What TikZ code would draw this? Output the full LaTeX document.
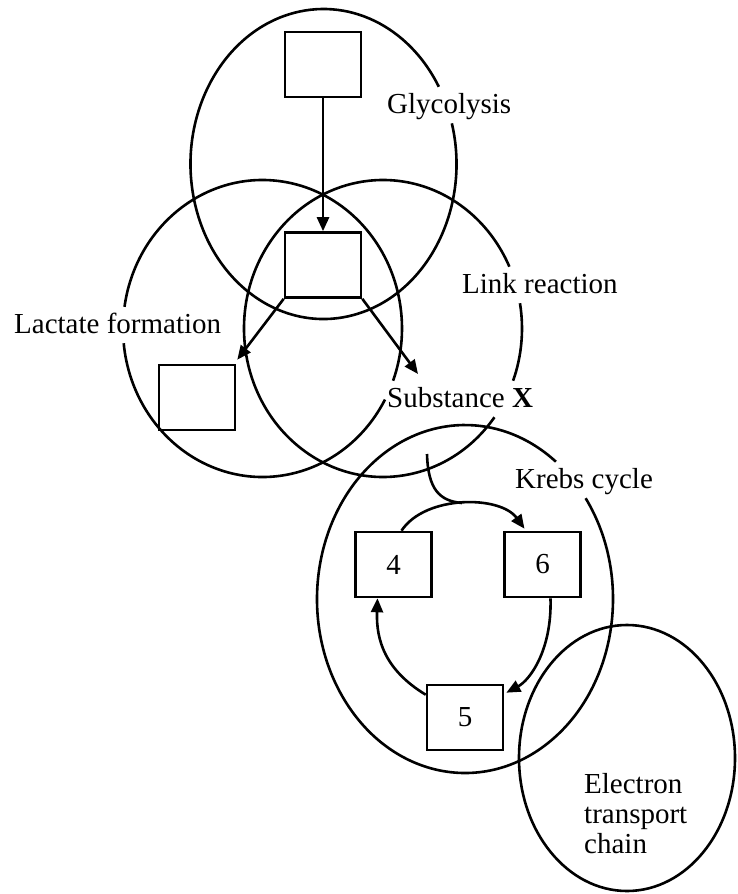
\documentclass[tikz,border=0pt]{standalone}
\usepackage{fontspec}
\setmainfont{Liberation Serif}
\usetikzlibrary{arrows.meta}
\begin{document}
\begin{tikzpicture}[x=1pt,y=-1pt]
\tikzset{
  stage/.style={draw,line width=2.6pt},
  lbl/.style={inner xsep=2pt,inner ysep=3pt,anchor=base west,text height=0.8em,text depth=0.25em,font=\fontsize{29}{30}\selectfont},
  box/.style={draw,line width=2.6pt,minimum width=76pt,minimum height=65pt,inner sep=0pt,font=\fontsize{29}{30}\selectfont},
  arr/.style={-{Triangle[length=14pt,width=12pt]},line width=2.6pt},
  plain/.style={line width=2.6pt}}
\useasboundingbox (0,0) rectangle (737,894);
% stages (ellipses, broken where a label sits on them)
% Glycolysis
\draw[stage] (323.5,164) ++(-15.2:133 and 155) arc[start angle=-15.2, end angle=330.1, x radius=133, y radius=155];
% Lactate formation
\draw[stage] (262.5,328.5) ++(28.6:139.5 and 148.5) arc[start angle=28.6, end angle=174.3, x radius=139.5, y radius=148.5];
\draw[stage] (262.5,328.5) ++(188.4:139.5 and 148.5) arc[start angle=188.4, end angle=380.6, x radius=139.5, y radius=148.5];
% Link reaction
\draw[stage] (383,328.5) ++(-9.8:139 and 148.5) arc[start angle=-9.8, end angle=20.6, x radius=139, y radius=148.5];
\draw[stage] (383,328.5) ++(36.7:139 and 148.5) arc[start angle=36.7, end angle=335.4, x radius=139, y radius=148.5];
% Krebs cycle
\draw[stage] (465,599) ++(-35.4:148 and 174) arc[start angle=-35.4, end angle=307.9, x radius=148, y radius=174];
% Electron transport chain
\draw[stage] (627,758) ellipse [x radius=108, y radius=133];
% labels
\node[lbl] (glyc) at (385,113) {Glycolysis};
\node[lbl] (link) at (460,293) {Link reaction};
\node[lbl] (lact) at (12,333) {Lactate formation};
\node[lbl] (subx) at (385,407) {Substance \textbf{X}};
\node[lbl] (krebs) at (513,488) {Krebs cycle};
\node[anchor=north west,align=left,inner sep=0pt,font=\fontsize{29}{30}\selectfont] (etc) at (584,773) {Electron\\transport\\chain};
% boxes
\node[box] (top) at (323,64.5) {};
\node[box] (mid) at (323,265) {};
\node[box] (lac) at (197,397.5) {};
\node[box] (k4) at (393.5,564.5) {4};
\node[box] (k6) at (542.5,564.5) {6};
\node[box] (k5) at (465,717.5) {5};
\coordinate (xtip) at (418,374);
\coordinate (xstart) at (427,454);
\coordinate (apex) at (462,503);
% arrows
\draw[arr] (top.south) -- (mid.north);
\draw[arr] (mid.south west) -- ([xshift=1pt,yshift=4pt]lac.north east);
\draw[arr] (mid.south east) -- (xtip);
\draw[arr] ([xshift=8pt]k4.north) .. controls (425,495) and (500,495) .. ([xshift=-18pt,yshift=2pt]k6.north);
\draw[plain] (xstart) .. controls (428,490) and (440,501) .. (apex);
\draw[arr] ([xshift=8pt]k6.south) .. controls (552,650) and (530,680) .. ([xshift=2pt,yshift=-9pt]k5.north east);
\draw[arr] ([yshift=-11pt]k5.north west) .. controls (385,670) and (376,640) .. ([xshift=-16pt]k4.south);
\end{tikzpicture}
\end{document}
